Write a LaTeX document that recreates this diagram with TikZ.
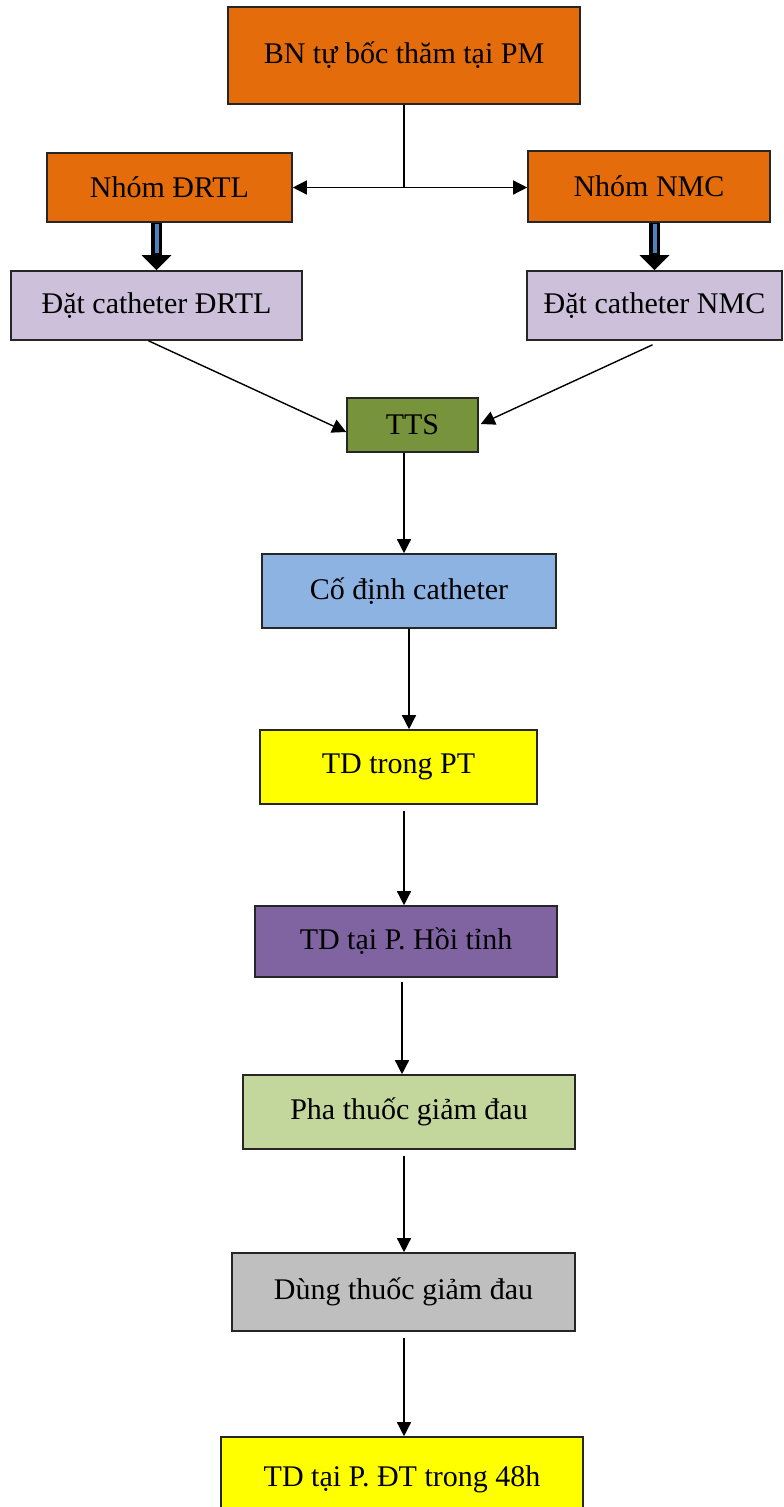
\documentclass[tikz,border=0pt]{standalone}
\usepackage{fontspec}
\setmainfont{Liberation Serif}
\usetikzlibrary{arrows.meta}
\definecolor{cOrange}{HTML}{E46C0A}
\definecolor{cLilac}{HTML}{CCC0DA}
\definecolor{cOlive}{HTML}{77933C}
\definecolor{cSky}{HTML}{8DB3E2}
\definecolor{cPurple}{HTML}{8064A2}
\definecolor{cLime}{HTML}{C3D69B}
\definecolor{cGrey}{HTML}{BFBFBF}
\definecolor{cYellow}{HTML}{FFFF00}
\definecolor{cCore}{HTML}{4F81BD}
\tikzset{
  box/.style={draw=black!85, line width=1.6pt, inner sep=0pt,
    font=\fontsize{30}{35}\selectfont},
  arr/.style={line width=1.4pt, -{Triangle[length=14pt,width=14pt]}},
  fat/.style={line width=11pt, -{Triangle[length=15pt,width=29pt]}},
  fatcore/.style={line width=4pt, cCore, shorten <=1pt, shorten >=17pt}
}
\begin{document}
\begin{tikzpicture}[x=1pt, y=-1pt]
    \useasboundingbox (0,0) rectangle (784,1507);
    \node[box, fill=cOrange, minimum width=352pt, minimum height=97pt] (bn) at (404,55.5) {BN tự bốc thăm tại PM};
    \node[box, fill=cOrange, minimum width=245pt, minimum height=69pt] (ndrtl) at (169.5,187.5) {Nhóm ĐRTL};
    \node[box, fill=cOrange, minimum width=242pt, minimum height=71pt] (nnmc) at (649,186.5) {Nhóm NMC};
    \node[box, fill=cLilac, minimum width=291pt, minimum height=69pt] (ddrtl) at (156.5,305.5) {Đặt catheter ĐRTL};
    \node[box, fill=cLilac, minimum width=255pt, minimum height=69pt] (dnmc) at (654.5,305.5) {Đặt catheter NMC};
    \node[box, fill=cOlive, minimum width=131pt, minimum height=54pt] (tts) at (412.5,425) {TTS};
    \node[box, fill=cSky, minimum width=294pt, minimum height=74pt] (codinh) at (409,591) {Cố định catheter};
    \node[box, fill=cYellow, minimum width=277pt, minimum height=74pt] (tdpt) at (398.5,767) {TD trong PT};
    \node[box, fill=cPurple, minimum width=302pt, minimum height=71pt] (hoitinh) at (406,941.5) {TD tại P. Hồi tỉnh};
    \node[box, fill=cLime, minimum width=332pt, minimum height=74pt] (pha) at (409,1112) {Pha thuốc giảm đau};
    \node[box, fill=cGrey, minimum width=343pt, minimum height=78pt] (dung) at (403.5,1292) {Dùng thuốc giảm đau};
    \node[box, fill=cYellow, minimum width=362pt, minimum height=84pt] (tddt) at (402,1479) {TD tại P. ĐT trong 48h};
    % split into the two groups
    \coordinate (fork) at (bn.south |- ndrtl.east);
    \draw[line width=1.4pt] (bn.south) -- (fork);
    \draw[arr] (fork) -- (ndrtl.east);
    \draw[arr] (fork) -- (nnmc.west |- fork);
    % thick arrows
    \draw[fat] (ddrtl.north |- ndrtl.south) -- (ddrtl.north);
    \draw[fatcore] (ddrtl.north |- ndrtl.south) -- (ddrtl.north);
    \draw[fat] (dnmc.north |- nnmc.south) -- (dnmc.north);
    \draw[fatcore] (dnmc.north |- nnmc.south) -- (dnmc.north);
    % towards TTS
    \draw[arr] ([xshift=-8pt]ddrtl.south) -- ([yshift=-7pt]tts.west);
    \draw[arr] ([xshift=-2pt,yshift=-4pt]dnmc.south) -- ([xshift=2pt,yshift=1pt]tts.east);
    % main chain
    \draw[arr] (tts.south -| 404,0) -- (codinh.north -| 404,0);
    \draw[arr] (codinh.south) -- (tdpt.north -| codinh.south);
    \draw[arr] ([yshift=-6pt]tdpt.south -| 404,0) -- (hoitinh.north -| 404,0);
    \draw[arr] ([yshift=-4pt]hoitinh.south -| 402,0) -- (pha.north -| 402,0);
    \draw[arr] ([yshift=-6pt]pha.south -| 404,0) -- (dung.north -| 404,0);
    \draw[arr] ([yshift=-6pt]dung.south -| 404,0) -- (tddt.north -| 404,0);
\end{tikzpicture}
\end{document}
